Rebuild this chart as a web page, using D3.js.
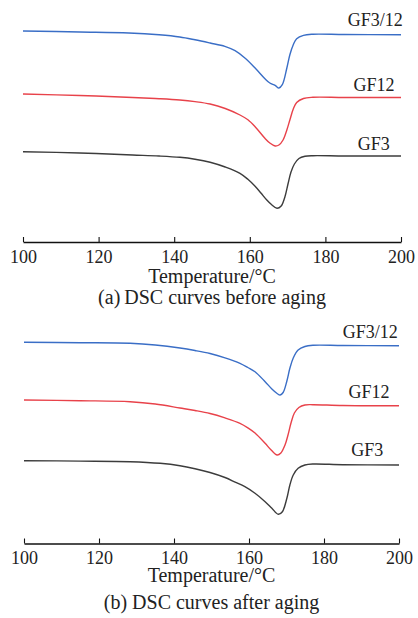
<!DOCTYPE html>
<html>
<head>
<meta charset="utf-8">
<script src="https://cdn.jsdelivr.net/npm/d3@7"></script>
<style>
  html, body { margin: 0; padding: 0; background: #fff; }
  svg { display: block; }
</style>
</head>
<body>
<div id="chart"></div>
<script>
// temperature (°C) sample points and heat flow (a.u., offset per sample)
const tempA_GF312 = [100, 115, 128, 136, 141.5, 145.5, 149.5, 153.4, 156.1, 158.7, 161.4, 164.0, 165.3, 166.7, 167.7, 168.6, 169.8, 170.6, 171.5, 172.4, 174.2, 176.7, 185, 200];
const flowA_GF312 = [21.1, 21.0, 20.9, 20.72, 20.5, 20.22, 19.9, 19.57, 19.13, 18.4, 17.4, 16.33, 15.9, 15.67, 15.4, 15.73, 17.4, 18.73, 19.73, 20.33, 20.67, 20.78, 20.75, 20.72];

const tempA_GF12 = [100, 115, 129, 136, 141.5, 145.5, 149.5, 153.5, 157.4, 159.5, 161.4, 164.0, 165.3, 166.7, 167.7, 168.8, 169.8, 170.6, 171.5, 172.4, 174.2, 176.7, 185, 200];
const flowA_GF12 = [14.8, 14.65, 14.45, 14.33, 14.2, 14.04, 13.8, 13.35, 12.7, 12.22, 11.53, 10.37, 9.9, 9.6, 9.7, 10.2, 11.2, 12.2, 13.3, 13.95, 14.35, 14.47, 14.45, 14.45];

const tempA_GF3 = [100, 115, 129, 136, 141.5, 145.5, 149.5, 153.5, 157.4, 159.5, 161.4, 163.0, 164.5, 165.8, 167.2, 168.3, 169.3, 170.1, 170.9, 171.8, 173.0, 174.6, 176.7, 185, 200];
const flowA_GF3 = [9.03, 8.9, 8.7, 8.6, 8.47, 8.28, 7.98, 7.5, 6.87, 6.27, 5.57, 4.87, 4.2, 3.72, 3.37, 3.6, 4.53, 5.8, 7.0, 7.8, 8.35, 8.57, 8.63, 8.6, 8.6];

const tempB_GF312 = [100, 115, 128.3, 135, 141.6, 145.6, 149.6, 153.6, 157.6, 159.7, 161.6, 164.3, 166.1, 167.5, 168.3, 169.1, 170.1, 170.9, 171.8, 173.1, 174.9, 177.1, 185, 200];
const flowB_GF312 = [20.12, 20.08, 20.02, 19.85, 19.55, 19.3, 19.0, 18.57, 18.02, 17.6, 17.18, 16.18, 15.45, 15.0, 14.85, 15.1, 16.25, 17.52, 18.55, 19.35, 19.7, 19.82, 19.8, 19.78];

const tempB_GF12 = [100, 115, 128.3, 135, 141.6, 145.6, 149.6, 153.6, 157.6, 159.7, 161.6, 164.3, 165.9, 167.5, 168.5, 169.6, 170.4, 171.2, 172.1, 173.3, 174.9, 177.1, 185, 200];
const flowB_GF12 = [14.35, 14.28, 14.18, 13.95, 13.55, 13.3, 13.0, 12.56, 12.02, 11.57, 11.05, 10.02, 9.35, 8.85, 9.05, 9.85, 10.85, 12.05, 13.05, 13.6, 13.85, 13.88, 13.8, 13.78];

const tempB_GF3 = [100, 115, 128.3, 136.3, 141.6, 145.6, 149.6, 153.6, 156.3, 158.9, 161.6, 164.3, 166.1, 167.8, 168.9, 170.1, 170.9, 171.8, 173.1, 174.9, 177.1, 185, 200];
const flowB_GF3 = [8.28, 8.24, 8.18, 8.02, 7.78, 7.48, 7.1, 6.6, 6.14, 5.68, 5.02, 4.18, 3.52, 2.92, 3.18, 4.52, 5.85, 6.85, 7.52, 7.85, 7.95, 7.88, 7.85];

const seriesNames = ['GF3/12', 'GF12', 'GF3'];
const seriesColors = ['#3a6ec6', '#e8424a', '#3c3c3c'];
const xTicks = [100, 120, 140, 160, 180, 200];
const xTitle = 'Temperature/°C';
const captions = ['(a)\u2009DSC curves before aging', '(b) DSC curves after aging'];

const zip = (t, v) => t.map((d, i) => ({ t: d, v: v[i] }));

const panels = [
  {
    caption: captions[0],
    left: 23, right: 401, axisY: 242, titleY: 283, captionY: 304,
    series: [zip(tempA_GF312, flowA_GF312), zip(tempA_GF12, flowA_GF12), zip(tempA_GF3, flowA_GF3)],
    labels: [{ t: 200.5, v: 21.6 }, { t: 198.3, v: 15.1 }, { t: 197.0, v: 9.2 }],
  },
  {
    caption: captions[1],
    left: 24, right: 399, axisY: 543.5, titleY: 581.5, captionY: 609,
    series: [zip(tempB_GF312, flowB_GF312), zip(tempB_GF12, flowB_GF12), zip(tempB_GF3, flowB_GF3)],
    labels: [{ t: 199.7, v: 20.55 }, { t: 197.5, v: 14.55 }, { t: 195.8, v: 8.75 }],
  },
];

const width = 418, height = 618;
const font = '"Liberation Serif", "Times New Roman", serif';

const svg = d3.select('#chart').append('svg')
  .attr('width', width)
  .attr('height', height)
  .attr('font-family', font);

panels.forEach((p) => {
  const x = d3.scaleLinear().domain([100, 200]).range([p.left, p.right]);
  const y = d3.scaleLinear().domain([0, 23.2]).range([p.axisY, p.axisY - 232]);

  const g = svg.append('g');

  const line = d3.line()
    .x((d) => x(d.t))
    .y((d) => y(d.v))
    .curve(d3.curveCatmullRom.alpha(0.5));

  g.selectAll('.curve')
    .data(p.series)
    .join('path')
    .attr('class', 'curve')
    .attr('fill', 'none')
    .attr('stroke', (d, i) => seriesColors[i])
    .attr('stroke-width', 1.4)
    .attr('stroke-linejoin', 'round')
    .attr('d', line);

  g.selectAll('.series-label')
    .data(p.labels)
    .join('text')
    .attr('class', 'series-label')
    .attr('x', (d) => x(d.t))
    .attr('y', (d) => y(d.v))
    .attr('text-anchor', 'end')
    .attr('font-size', 18)
    .attr('fill', '#222')
    .text((d, i) => seriesNames[i]);

  // x axis, ticks pointing up
  const axis = g.append('g')
    .attr('transform', `translate(0,${p.axisY})`)
    .call(d3.axisBottom(x).tickValues(xTicks).tickSizeInner(-5).tickSizeOuter(0).tickPadding(8));
  axis.select('.domain').attr('stroke', '#111').attr('stroke-width', 1.3);
  axis.selectAll('.tick line').attr('stroke', '#111').attr('stroke-width', 1.1);
  axis.selectAll('.tick text')
    .attr('font-family', font)
    .attr('font-size', 18)
    .attr('fill', '#222');

  g.append('text')
    .attr('x', (p.left + p.right) / 2)
    .attr('y', p.titleY)
    .attr('text-anchor', 'middle')
    .attr('font-size', 20)
    .attr('fill', '#222')
    .text(xTitle);

  g.append('text')
    .attr('x', (p.left + p.right) / 2)
    .attr('y', p.captionY)
    .attr('text-anchor', 'middle')
    .attr('font-size', 20)
    .attr('fill', '#222')
    .text(p.caption);
});
</script>
</body>
</html>
